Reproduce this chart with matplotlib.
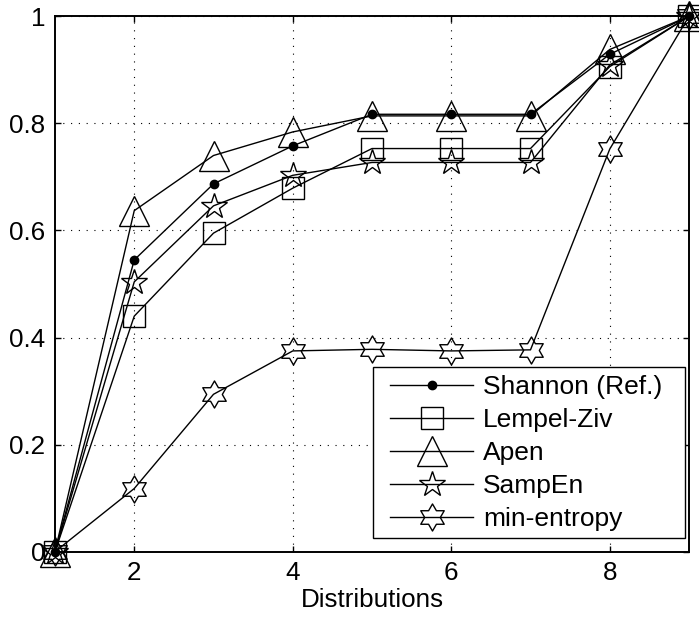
import numpy as np
import matplotlib
matplotlib.use("Agg")
import matplotlib.pyplot as plt
from matplotlib.path import Path
from matplotlib.patches import Rectangle

plt.rcParams['font.family'] = ['Liberation Sans', 'DejaVu Sans']

# Normalised entropy estimates for each distribution
distributions = [1, 2, 3, 4, 5, 6, 7, 8, 9]
shannon = [0.0, 0.545, 0.687, 0.758, 0.817, 0.817, 0.817, 0.929, 1.0]
lempel_ziv = [0.0, 0.440, 0.595, 0.679, 0.753, 0.753, 0.753, 0.906, 1.0]
apen = [0.0, 0.637, 0.740, 0.784, 0.814, 0.814, 0.814, 0.938, 1.0]
sampen = [0.0, 0.504, 0.646, 0.703, 0.727, 0.727, 0.727, 0.909, 1.0]
min_entropy = [0.0, 0.118, 0.294, 0.375, 0.378, 0.375, 0.377, 0.752, 1.0]

series_labels = ['Shannon (Ref.)', 'Lempel-Ziv', 'Apen', 'SampEn', 'min-entropy']
x_ticks = [2, 4, 6, 8]
y_ticks = [0, 0.2, 0.4, 0.6, 0.8, 1.0]
y_tick_labels = ['0', '0.2', '0.4', '0.6', '0.8', '1']
x_label = 'Distributions'

W, H = 699, 626

# six-pointed star (hexagram) marker
angles = np.pi / 2 + np.arange(12) * np.pi / 6
radii = np.where(np.arange(12) % 2 == 0, 1.0, 0.577)
hex_verts = np.column_stack([radii * np.cos(angles), radii * np.sin(angles)])
hex_verts = np.vstack([hex_verts, hex_verts[:1]])
hexagram = Path(hex_verts, closed=True)

fig = plt.figure(figsize=(W / 100, H / 100), dpi=100)
ax = fig.add_axes([55 / W, 1 - 551.7 / H, (689 - 55) / W, (551.7 - 16.3) / H])

common = dict(color='black', lw=1.0, markeredgecolor='black', markeredgewidth=1.0,
              clip_on=False, zorder=3)
ax.plot(distributions, shannon, marker='o', ms=6, markerfacecolor='black',
        label=series_labels[0], **common)
ax.plot(distributions, lempel_ziv, marker='s', ms=15.5, markerfacecolor='none',
        label=series_labels[1], **common)
ax.plot(distributions, apen, marker='^', ms=21, markerfacecolor='none',
        label=series_labels[2], **common)
ax.plot(distributions, sampen, marker='*', ms=19, markerfacecolor='none',
        label=series_labels[3], **common)
ax.plot(distributions, min_entropy, marker=hexagram, ms=19.5, markerfacecolor='none',
        label=series_labels[4], **common)

ax.set_xlim(1, 9)
ax.set_ylim(0, 1)
ax.set_xticks(x_ticks)
ax.set_yticks(y_ticks)
ax.set_yticklabels(y_tick_labels)
ax.tick_params(direction='in', length=4, width=1, labelsize=18.7, top=True, right=True,
               pad=7)
ax.set_xlabel(x_label, fontsize=18.7, labelpad=2)
ax.grid(True, color='black', linestyle=(0, (1, 6)), lw=0.8)
for s in ax.spines.values():
    s.set_linewidth(1.4)
    s.set_zorder(2.5)

# legend entries without their own frame; the box is drawn separately
leg = ax.legend(loc='upper left', bbox_to_anchor=(390 / W, 1 - 375 / H),
                bbox_transform=fig.transFigure, borderaxespad=0, borderpad=0,
                fontsize=19, frameon=False, handlelength=3.15,
                labelspacing=0.34, handletextpad=0.38)
leg.set_zorder(5)
box = Rectangle((373 / W, 1 - 538 / H), (685 - 373) / W, (538 - 366.7) / H,
                transform=fig.transFigure, facecolor='white', edgecolor='black',
                lw=1.0, zorder=4)
fig.add_artist(box)
fig.add_artist(leg)

fig.savefig('out.png', dpi=100)
